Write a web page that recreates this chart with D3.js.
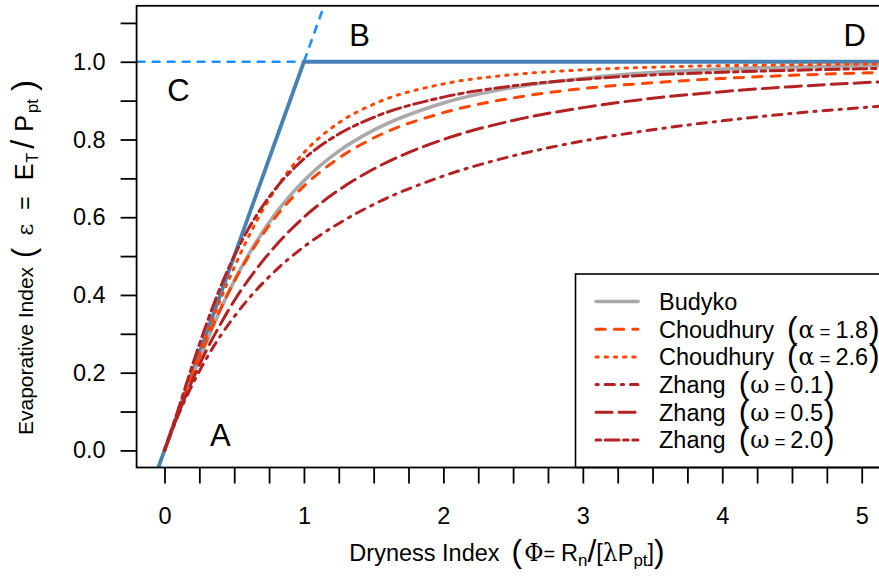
<!DOCTYPE html>
<html>
<head>
<meta charset="utf-8">
<script src="https://cdn.jsdelivr.net/npm/d3@7"></script>
<style>
    body { margin: 0; background: #fff; }
    text { font-family: "Liberation Sans", Arial, sans-serif; fill: #000; }
</style>
</head>
<body>
<div id="chart"></div>
<script>
// dryness index samples and curve values
const phi          = [0, 0.1, 0.2, 0.3, 0.4, 0.5, 0.6, 0.8, 1.0, 1.25, 1.5, 2.0, 2.5, 3.0, 3.5, 4.0, 4.5, 5.0, 5.5];
const budyko       = [0, 0.098, 0.190, 0.278, 0.361, 0.436, 0.502, 0.611, 0.694, 0.770, 0.824, 0.894, 0.934, 0.957, 0.972, 0.981, 0.986, 0.990, 0.993];
const choudhury18  = [0, 0.099, 0.194, 0.282, 0.363, 0.435, 0.498, 0.602, 0.680, 0.752, 0.804, 0.869, 0.907, 0.931, 0.946, 0.957, 0.965, 0.971, 0.975];
const choudhury26  = [0, 0.100, 0.199, 0.295, 0.387, 0.471, 0.548, 0.674, 0.766, 0.843, 0.891, 0.943, 0.967, 0.979, 0.986, 0.990, 0.992, 0.994, 0.995];
const zhang01      = [0, 0.092, 0.169, 0.236, 0.294, 0.344, 0.389, 0.464, 0.524, 0.584, 0.633, 0.706, 0.758, 0.796, 0.825, 0.848, 0.867, 0.882, 0.895];
const zhang05      = [0, 0.095, 0.180, 0.257, 0.324, 0.385, 0.438, 0.528, 0.600, 0.670, 0.724, 0.800, 0.849, 0.882, 0.906, 0.923, 0.936, 0.946, 0.954];
const zhang20      = [0, 0.107, 0.219, 0.324, 0.419, 0.500, 0.569, 0.675, 0.750, 0.814, 0.857, 0.909, 0.938, 0.955, 0.966, 0.973, 0.978, 0.982, 0.985];

// energy / water limits
const limitSolidX  = [-0.044, 1, 5.3];
const limitSolidY  = [-0.044, 1, 1];
const waterDashX   = [-0.2, 1];
const waterDashY   = [1, 1];
const energyDashX  = [1, 1.2];
const energyDashY  = [1, 1.2];

// corner labels
const cornerText = ["A", "B", "C", "D"];
const cornerX    = [0.40, 1.40, 0.10, 4.95];
const cornerY    = [0.04, 1.068, 0.929, 1.07];

const xTicks = d3.range(0, 21).map(i => i * 0.25);
const xLabels = [0, 1, 2, 3, 4, 5];
const yTicks = d3.range(0, 12).map(i => +(i * 0.1).toFixed(1));
const yLabels = [0, 0.2, 0.4, 0.6, 0.8, 1.0];

const legendNames  = ["Budyko", "Choudhury", "Choudhury", "Zhang", "Zhang", "Zhang"];
const legendSymbol = [null, "α", "α", "ω", "ω", "ω"];
const legendParam  = [null, "1.8", "2.6", "0.1", "0.5", "2.0"];

const [svgW, svgH] = [879, 579];
const PLOT = {left: 136.6, right: 889.6, top: 5.8, bottom: 467.5};
const FONT = 23.5;
const U = 2.3; // dash unit

const ORANGE = "#FF4500";
const RED = "#B22222";

const styles = [
    {color: "#A9A9A9", width: 3.6, dash: null},
    {color: ORANGE, width: 3, dash: [4, 4]},
    {color: ORANGE, width: 3, dash: [1, 3]},
    {color: RED, width: 3, dash: [1, 3, 4, 3]},
    {color: RED, width: 3, dash: [7, 3]},
    {color: RED, width: 3, dash: [2, 2, 6, 2]}
];
const seriesData = [budyko, choudhury18, choudhury26, zhang01, zhang05, zhang20];

const x = d3.scaleLinear().domain([-0.2, 5.2]).range([PLOT.left, PLOT.right]);
const y = d3.scaleLinear().domain([-0.044, 1.144]).range([PLOT.bottom, PLOT.top]);

function dashArray(s) {
    return s.dash ? s.dash.map(d => d * U).join(",") : null;
}

function addMath(text, parts) {
    parts.forEach(function (p) {
        let t = text.append("tspan").text(p.t);
        if (p.fs) t.attr("font-size", p.fs);
        if (p.serif) t.style("font-family", "'DejaVu Serif', 'Liberation Serif', serif");
        if (p.dy) t.attr("dy", p.dy);
        if (p.dx) t.attr("dx", p.dx);
    });
}

function initSVG() {
    let svg = d3.select("#chart").append("svg")
        .attr("width", svgW).attr("height", svgH);

    svg.append("defs").append("clipPath").attr("id", "clip")
        .append("rect")
        .attr("x", PLOT.left).attr("y", PLOT.top)
        .attr("width", PLOT.right - PLOT.left).attr("height", PLOT.bottom - PLOT.top);

    return svg;
}

function renderAxes(svg) {
    let xAxis = d3.axisBottom(x).tickValues(xTicks).tickSize(16).tickPadding(24)
        .tickFormat(d => xLabels.indexOf(d) >= 0 ? d3.format("d")(d) : "");
    let gx = svg.append("g").attr("transform", "translate(0," + PLOT.bottom + ")").call(xAxis);

    let yAxis = d3.axisLeft(y).tickValues(yTicks).tickSize(16).tickPadding(15)
        .tickFormat(d => yLabels.indexOf(d) >= 0 ? d3.format(".1f")(d) : "");
    let gy = svg.append("g").attr("transform", "translate(" + PLOT.left + ",0)").call(yAxis);

    [gx, gy].forEach(function (g) {
        g.select(".domain").remove();
        g.selectAll(".tick line").attr("stroke", "#000").attr("stroke-width", 1.8);
        g.selectAll(".tick text").attr("font-size", FONT)
            .style("font-family", "'Liberation Sans', Arial, sans-serif").attr("fill", "#000");
    });

    // x title
    let xt = svg.append("text").attr("x", 507).attr("y", 561)
        .attr("text-anchor", "middle").attr("font-size", FONT);
    addMath(xt, [
        {t: "Dryness Index"},
        {t: "(", fs: FONT * 1.35, dx: 12, dy: 1},
        {t: "Φ", serif: true, fs: FONT, dy: -1, dx: 2},
        {t: "=", fs: FONT * 0.85},
        {t: "R", dx: 6},
        {t: "n", fs: FONT * 0.72, dy: 5},
        {t: "/", fs: FONT * 1.35, dy: -4},
        {t: "[", dy: -1},
        {t: "λ", serif: true},
        {t: "P"},
        {t: "pt", fs: FONT * 0.72, dy: 5},
        {t: "]", dy: -5},
        {t: ")", fs: FONT * 1.35, dy: 1}
    ]);

    // y title
    const YF = 21;
    let yt = svg.append("text").attr("transform", "translate(33,435) rotate(-90)")
        .attr("text-anchor", "start").attr("font-size", YF);
    addMath(yt, [
        {t: "Evaporative Index"},
        {t: "(", fs: YF * 1.45, dx: 9, dy: 1},
        {t: "ε", serif: true, fs: YF * 1.1, dy: -1, dx: 12},
        {t: "=", fs: YF * 1.1, dx: 14},
        {t: "E", fs: YF * 1.2, dx: 16},
        {t: "T", fs: YF * 0.75, dy: 5, dx: 1},
        {t: "/", fs: YF * 1.55, dy: -4, dx: 4},
        {t: "P", fs: YF * 1.2, dy: -1, dx: 8},
        {t: "pt", fs: YF * 0.8, dy: 5, dx: 2},
        {t: ")", fs: YF * 1.6, dy: -3, dx: 8}
    ]);
}

function renderLines(svg) {
    let g = svg.append("g").attr("clip-path", "url(#clip)");
    let line = d3.line().x(d => x(d[0])).y(d => y(d[1]));

    g.append("path").attr("d", line(d3.zip(waterDashX, waterDashY)))
        .attr("fill", "none").attr("stroke", "#1E90FF").attr("stroke-width", 2.6)
        .attr("stroke-dasharray", "9,6");
    g.append("path").attr("d", line(d3.zip(energyDashX, energyDashY)))
        .attr("fill", "none").attr("stroke", "#1E90FF").attr("stroke-width", 2.6)
        .attr("stroke-dasharray", "9,6");
    g.append("path").attr("d", line(d3.zip(limitSolidX, limitSolidY)))
        .attr("fill", "none").attr("stroke", "#4682B4").attr("stroke-width", 3.8)
        .attr("stroke-linejoin", "round");

    let curve = d3.line().curve(d3.curveMonotoneX).x(d => x(d[0])).y(d => y(d[1]));
    seriesData.forEach(function (vals, i) {
        let s = styles[i];
        g.append("path").attr("d", curve(d3.zip(phi, vals)))
            .attr("fill", "none").attr("stroke", s.color).attr("stroke-width", s.width)
            .attr("stroke-linecap", "round")
            .attr("stroke-dasharray", dashArray(s));
    });

    svg.selectAll("text.corner").data(cornerText).enter().append("text")
        .attr("class", "corner")
        .attr("x", (d, i) => x(cornerX[i])).attr("y", (d, i) => y(cornerY[i]))
        .attr("text-anchor", "middle").attr("dy", "0.36em")
        .attr("font-size", 31).text(d => d);
}

function renderLegend(svg) {
    let top = 274;
    let left = 575.5;
    svg.append("rect").attr("x", left).attr("y", top)
        .attr("width", PLOT.right - left).attr("height", PLOT.bottom - top)
        .attr("fill", "#fff").attr("stroke", "#000").attr("stroke-width", 1.6);

    let rowY = d3.scaleLinear().domain([0, 5]).range([301.5, 440]);
    legendNames.forEach(function (name, i) {
        let s = styles[i];
        let yy = rowY(i);
        svg.append("line").attr("x1", 596).attr("x2", 638).attr("y1", yy).attr("y2", yy)
            .attr("stroke", s.color).attr("stroke-width", s.width)
            .attr("stroke-linecap", "round").attr("stroke-dasharray", dashArray(s));
        let t = svg.append("text").attr("x", 659).attr("y", yy).attr("dy", "0.36em")
            .attr("font-size", FONT);
        if (legendSymbol[i]) {
            addMath(t, [
                {t: name},
                {t: "(", fs: FONT * 1.35, dx: 13, dy: 1},
                {t: legendSymbol[i], serif: true, fs: FONT, dy: -1, dx: 1},
                {t: "=", fs: FONT * 0.8, dx: 5},
                {t: legendParam[i], dx: 5},
                {t: ")", fs: FONT * 1.35, dy: 1, dx: 1}
            ]);
        } else {
            t.text(name);
        }
    });
}

function renderBox(svg) {
    svg.append("rect").attr("x", PLOT.left).attr("y", PLOT.top)
        .attr("width", PLOT.right - PLOT.left).attr("height", PLOT.bottom - PLOT.top)
        .attr("fill", "none").attr("stroke", "#000").attr("stroke-width", 1.8);
}

function main() {
    let svg = initSVG();
    renderLines(svg);
    renderLegend(svg);
    renderAxes(svg);
    renderBox(svg);
}

main();
</script>
</body>
</html>
